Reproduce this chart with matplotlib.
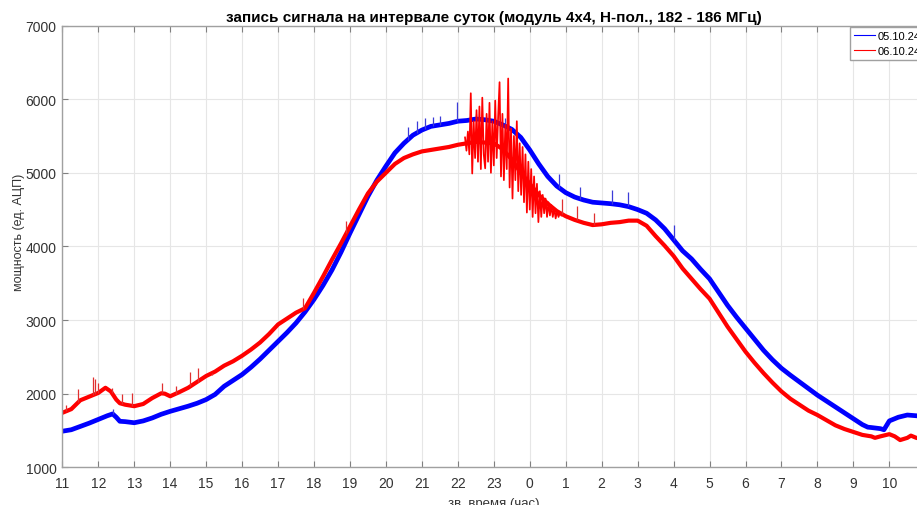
import numpy as np
import matplotlib
matplotlib.use("Agg")
import matplotlib.pyplot as plt

# ---------------- data (elapsed hours from 11h sidereal) ----------------
tick_labels = ["11", "12", "13", "14", "15", "16", "17", "18", "19", "20", "21", "22",
               "23", "0", "1", "2", "3", "4", "5", "6", "7", "8", "9", "10", "11"]

blue_t = [0.0, 0.25, 0.5, 0.75, 1.0, 1.25, 1.4, 1.5, 1.6, 1.75, 2.0, 2.25, 2.5, 2.75,
          3.0, 3.25, 3.5, 3.75, 4.0, 4.25, 4.5, 4.75, 5.0, 5.25, 5.5, 5.75, 6.0, 6.25,
          6.5, 6.75, 7.0, 7.25, 7.5, 7.75, 8.0, 8.25, 8.5, 8.75, 9.0, 9.25, 9.5, 9.75,
          10.0, 10.25, 10.5, 10.75, 11.0, 11.25, 11.5, 11.75, 12.0, 12.25, 12.5, 12.75,
          13.0, 13.25, 13.5, 13.75, 14.0, 14.25, 14.5, 14.75, 15.0, 15.25, 15.5, 15.75,
          16.0, 16.25, 16.5, 16.75, 17.0, 17.25, 17.5, 17.75, 18.0, 18.25, 18.5, 18.75,
          19.0, 19.25, 19.5, 19.75, 20.0, 20.25, 20.5, 20.75, 21.0, 21.25, 21.5, 21.75,
          22.0, 22.25, 22.4, 22.5, 22.75, 22.85, 23.0, 23.25, 23.5, 23.75, 23.95]
blue_v = [1490, 1510, 1555, 1600, 1650, 1700, 1725, 1680, 1625, 1620, 1605, 1630, 1670, 1720,
          1760, 1795, 1830, 1870, 1920, 1990, 2100, 2180, 2260, 2360, 2470, 2590, 2710, 2830,
          2960, 3110, 3280, 3470, 3680, 3920, 4180, 4430, 4680, 4900, 5090, 5270, 5400, 5510,
          5580, 5630, 5650, 5670, 5700, 5710, 5730, 5720, 5700, 5650, 5590, 5480,
          5310, 5120, 4950, 4820, 4730, 4670, 4630, 4600, 4590, 4580, 4565, 4540,
          4500, 4450, 4360, 4240, 4090, 3940, 3830, 3690, 3560, 3380, 3200, 3040,
          2890, 2740, 2590, 2460, 2345, 2250, 2160, 2070, 1980, 1900, 1820, 1740,
          1660, 1580, 1545, 1540, 1525, 1510, 1630, 1680, 1710, 1700, 1690]

# thin narrow spikes on the blue record (time, peak value)
blue_spike_t = [1.4, 8.6, 9.6, 9.86, 10.09, 10.32, 10.5, 10.99, 11.5, 12.3, 13.82, 14.4,
                15.3, 15.72, 17.0]
blue_spike_v = [1790, 4800, 5620, 5700, 5740, 5760, 5770, 5960, 5800, 5750, 4990, 4800,
                4760, 4740, 4290]

red_t = [0.0, 0.25, 0.5, 0.75, 1.0, 1.2, 1.35, 1.5, 1.6, 1.75, 2.0, 2.25, 2.5, 2.75,
         2.85, 3.0, 3.25, 3.5, 3.75, 4.0, 4.25, 4.5, 4.75, 5.0, 5.25, 5.5, 5.75, 6.0,
         6.25, 6.5, 6.75, 7.0, 7.25, 7.5, 7.75, 8.0, 8.25, 8.5, 8.75, 9.0, 9.25, 9.5,
         9.75, 10.0, 10.25, 10.5, 10.75, 11.0, 11.25, 11.5, 11.75, 12.0, 12.25, 12.5,
         12.75, 13.0, 13.25, 13.5, 13.75, 14.0, 14.25, 14.5, 14.75, 15.0, 15.25, 15.5,
         15.75, 16.0, 16.25, 16.5, 16.75, 17.0, 17.25, 17.5, 17.75, 18.0, 18.25, 18.5,
         18.75, 19.0, 19.25, 19.5, 19.75, 20.0, 20.25, 20.5, 20.75, 21.0, 21.25, 21.5,
         21.75, 22.0, 22.25, 22.5, 22.6, 22.75, 23.0, 23.15, 23.3, 23.5, 23.6, 23.75, 23.95]
red_v = [1740, 1790, 1910, 1960, 2010, 2080, 2030, 1920, 1870, 1850, 1830, 1860, 1940, 2005,
         2000, 1965, 2020, 2080, 2160, 2240, 2300, 2380, 2440, 2515, 2600, 2695, 2810, 2940,
         3020, 3100, 3160, 3370, 3590, 3820, 4040, 4270, 4500, 4720, 4880, 5000, 5120, 5200,
         5250, 5290, 5310, 5330, 5350, 5380, 5400, 5420, 5410, 5400, 5320, 5180,
         5000, 4850, 4700, 4580, 4480, 4410, 4360, 4320, 4290, 4300, 4320, 4330,
         4350, 4350, 4280, 4140, 4010, 3870, 3700, 3560, 3420, 3290, 3100, 2910,
         2740, 2570, 2420, 2280, 2150, 2030, 1930, 1850, 1770, 1710, 1640, 1570,
         1520, 1480, 1440, 1420, 1400, 1420, 1450, 1420, 1370, 1400, 1430, 1400, 1380]

red_spike_t = [0.1, 0.45, 0.84, 0.9, 1.0, 1.38, 1.65, 1.93, 2.76, 3.16, 3.56, 3.76, 4.15,
               6.69, 7.9, 13.9, 14.3, 14.8]
red_spike_v = [1850, 2070, 2220, 2200, 2150, 2080, 1990, 2010, 2150, 2110, 2290, 2350, 2260,
               3300, 4350, 4650, 4550, 4450]

# noisy burst 22.2h .. 0.88h sidereal (samples every 0.04 h)
red_burst_v = [5480, 5300, 5560, 5250, 6080, 4990, 5700, 5200, 5850, 5150,
               5900, 5050, 6020, 5250, 5060, 5800, 5150, 5950, 5000, 5700,
               5100, 5980, 5200, 5750, 6230, 4950, 5800, 4900, 5650, 5050,
               6280, 4800, 5600, 4650, 5500, 4900, 5700, 4750, 5400, 4700,
               5350, 4600, 5250, 4460, 5150, 4500, 5050, 4400, 4950, 4450,
               4850, 4330, 4750, 4400, 4700, 4450, 4650, 4400, 4600, 4420,
               4560, 4400, 4520, 4380, 4480, 4400, 4460, 4420]
red_burst_t = np.linspace(11.2, 11.2 + 0.04 * (len(red_burst_v) - 1), len(red_burst_v))

series_names = ["05.10.24", "06.10.24"]

# ---------------- figure ----------------
plt.rcParams['font.family'] = ['Liberation Sans', 'DejaVu Sans']
fig = plt.figure(figsize=(9.17, 5.06), dpi=100)
ax = fig.add_axes([62.3 / 917, (506 - 468.3) / 506, (925.3 - 62.3) / 917, (468.3 - 26.5) / 506])

BLUE = '#0000ff'
RED = '#ff0000'

ax.plot(blue_t, blue_v, color=BLUE, lw=3.4, label=series_names[0])
bb = np.interp(blue_spike_t, blue_t, blue_v)
ax.vlines(blue_spike_t, bb, blue_spike_v, color='#3c3cd8', lw=0.9)

ax.plot(red_t, red_v, color=RED, lw=3.0, label=series_names[1])
ax.plot(red_burst_t, red_burst_v, color=RED, lw=1.25)
rb = np.interp(red_spike_t, red_t, red_v)
ax.vlines(red_spike_t, rb, red_spike_v, color='#e03030', lw=0.9)

ax.set_xlim(0, 24)
ax.set_ylim(1000, 7000)
ax.set_xticks(range(len(tick_labels)))
ax.set_xticklabels(tick_labels)
ax.set_yticks([1000, 2000, 3000, 4000, 5000, 6000, 7000])

ax.grid(True, color='#e6e6e6', lw=0.8)
ax.set_axisbelow(True)
for s in ax.spines.values():
    s.set_color('#a0a0a0')
    s.set_linewidth(1.0)
ax.tick_params(direction='in', top=True, right=True, length=4, width=0.8,
               color='#808080', labelcolor='#333333', labelsize=10)
ax.tick_params(axis='x', pad=6)
ax.tick_params(axis='y', pad=4)

ax.set_title("запись сигнала на интервале суток (модуль 4x4, Н-пол., 182 - 186 МГц)",
             fontsize=11, fontweight='bold', pad=3)
ax.set_ylabel("мощность (ед. АЦП)", fontsize=9, color='#333333')
ax.yaxis.set_label_coords(-0.043, 0.535)
ax.set_xlabel("зв. время (час)", fontsize=9.5, color='#333333', labelpad=5)

leg = ax.legend(loc='upper left', bbox_to_anchor=(0.913, 0.997), borderaxespad=0,
                fontsize=8, handlelength=1.9, handletextpad=0.2, labelspacing=0.45,
                borderpad=0.35, fancybox=False, framealpha=1, edgecolor='#a0a0a0')
for line in leg.get_lines():
    line.set_linewidth(0.8)

fig.savefig("out.png", dpi=100)
